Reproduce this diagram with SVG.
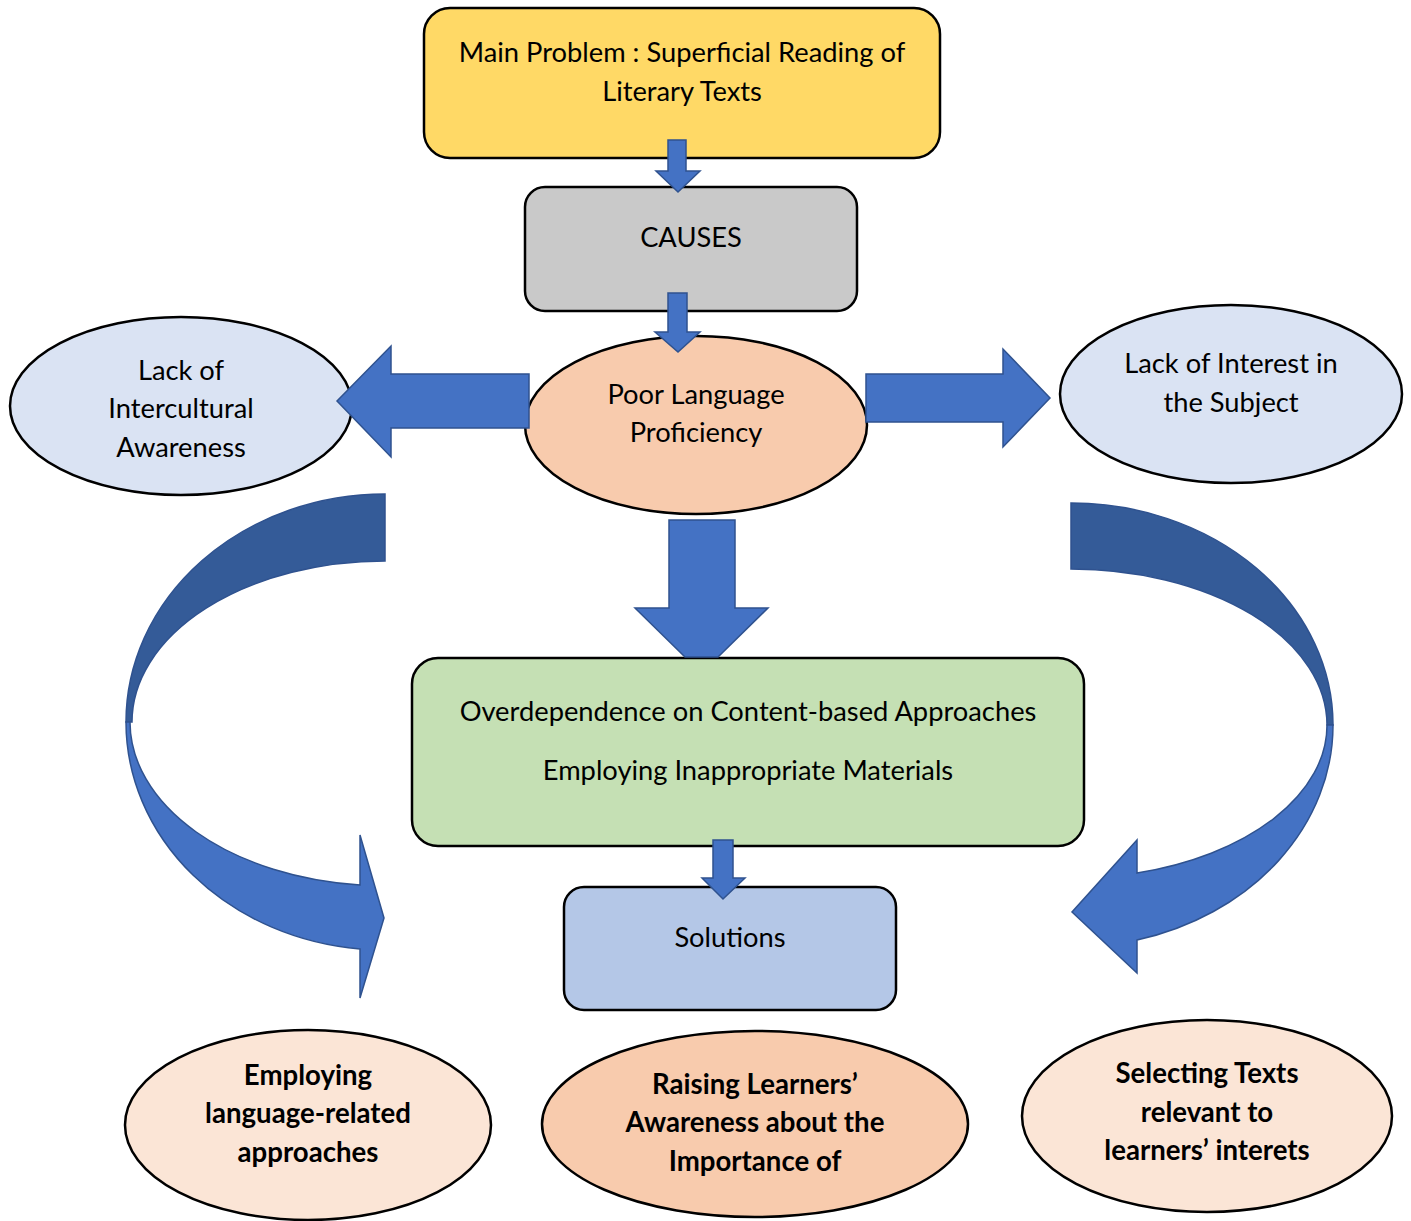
<svg xmlns="http://www.w3.org/2000/svg" width="1411" height="1221" viewBox="0 0 1411 1221">
  <style>
    .node { stroke: #000; stroke-width: 2.5; }
    .txt { font-family: Lato, "Open Sans", "Liberation Sans", sans-serif; font-size: 27.3px; fill: #000; text-anchor: middle; }
    .bold { font-weight: bold; font-size: 27.6px; }
    .arrow { fill: #4472C4; stroke: #2F528F; stroke-width: 1.5; stroke-linejoin: miter; }
    .back { fill: #345B98; stroke: #2F528F; stroke-width: 1.5; }
  </style>
  <rect width="1411" height="1221" fill="#fff"/>

  <!-- nodes -->
  <g id="main-problem">
    <rect class="node" x="424" y="8" width="516" height="150" rx="26" fill="#FFD966"/>
    <text class="txt" x="682" y="62">Main Problem : Superficial Reading of</text>
    <text class="txt" x="682" y="101">Literary Texts</text>
  </g>
  <g id="causes">
    <rect class="node" x="525" y="187" width="332" height="124" rx="20" fill="#C9C9C9"/>
    <text class="txt" x="691" y="247">CAUSES</text>
  </g>
  <g id="poor-proficiency">
    <ellipse class="node" cx="696" cy="425" rx="171" ry="89" fill="#F8CBAD"/>
    <text class="txt" x="696" y="404">Poor Language</text>
    <text class="txt" x="696" y="442">Proficiency</text>
  </g>
  <g id="intercultural">
    <ellipse class="node" cx="181" cy="406" rx="171" ry="89" fill="#DAE3F3"/>
    <text class="txt" x="181" y="380">Lack of</text>
    <text class="txt" x="181" y="418">Intercultural</text>
    <text class="txt" x="181" y="457">Awareness</text>
  </g>
  <g id="interest">
    <ellipse class="node" cx="1231" cy="394" rx="171" ry="89" fill="#DAE3F3"/>
    <text class="txt" x="1231" y="373">Lack of Interest in</text>
    <text class="txt" x="1231" y="412">the Subject</text>
  </g>
  <g id="approaches">
    <rect class="node" x="412" y="658" width="672" height="188" rx="26" fill="#C5E0B4"/>
    <text class="txt" x="748" y="721">Overdependence on Content-based Approaches</text>
    <text class="txt" x="748" y="780">Employing Inappropriate Materials</text>
  </g>
  <g id="solutions">
    <rect class="node" x="564" y="887" width="332" height="123" rx="20" fill="#B4C7E7"/>
    <text class="txt" x="730" y="947">Solutions</text>
  </g>
  <g id="language-related">
    <ellipse class="node" cx="308" cy="1125" rx="183" ry="95" fill="#FBE5D6"/>
    <text class="txt bold" x="308" y="1085">Employing</text>
    <text class="txt bold" x="308" y="1123">language-related</text>
    <text class="txt bold" x="308" y="1162">approaches</text>
  </g>
  <g id="raising-awareness">
    <ellipse class="node" cx="755" cy="1124" rx="213" ry="93" fill="#F8CBAD"/>
    <text class="txt bold" x="755" y="1094">Raising Learners’</text>
    <text class="txt bold" x="755" y="1132">Awareness about the</text>
    <text class="txt bold" x="755" y="1171">Importance of</text>
  </g>
  <g id="selecting-texts">
    <ellipse class="node" cx="1207" cy="1116" rx="185" ry="96" fill="#FBE5D6"/>
    <text class="txt bold" x="1207" y="1083">Selecting Texts</text>
    <text class="txt bold" x="1207" y="1122">relevant to</text>
    <text class="txt bold" x="1207" y="1160">learners’ interets</text>
  </g>

  <!-- connectors -->
  <g id="connectors">
    <polygon class="arrow" points="668,140 686,140 686,171 700,171 678,192 656,171 668,171"/>
    <polygon class="arrow" points="668,293 687,293 687,332 700,332 678,352 655,332 668,332"/>
    <polygon class="arrow" points="529,374 529,428 391,428 391,457 337,401 391,346 391,374"/>
    <polygon class="arrow" points="866,374 1003,374 1003,349 1050,398 1003,447 1003,422 866,422"/>
    <polygon class="arrow" points="669,520 735,520 735,608 768,608 718,657 685,657 635,608 669,608"/>
    <polygon class="arrow" points="713,840 733,840 733,878 745,878 723,899 702,878 713,878"/>

    <!-- curved arrow, left side -->
    <path class="back" d="M385,494 A259,228 0 0 0 126,722 L132,722 A253,161 0 0 1 385,561 Z"/>
    <path class="arrow" d="M126,722 A259,228 0 0 0 360,949 L360,998 L384,918 L360,835 L360,885 A255,164 0 0 1 130,722 Z"/>

    <!-- curved arrow, right side -->
    <path class="back" d="M1071,503 A262,222 0 0 1 1333,725 L1327,725 A256,156 0 0 0 1071,569 Z"/>
    <path class="arrow" d="M1333,725 A262,222 0 0 1 1137,940 L1137,973 L1072,912 L1137,840 L1137,873 A256,153 0 0 0 1327,725 Z"/>
  </g>
</svg>
